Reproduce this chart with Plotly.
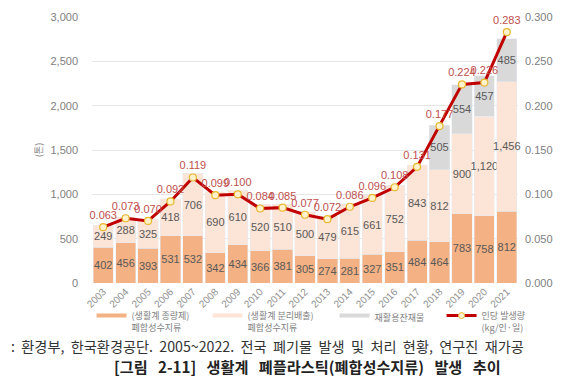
import plotly.graph_objects as go

years = [str(y) for y in range(2003, 2022)]
general_waste = [402, 456, 393, 531, 532, 342, 434, 366, 381, 305, 274, 281,
                 327, 351, 484, 464, 783, 758, 812]
separated = [249, 288, 325, 418, 706, 690, 610, 520, 510, 500, 479, 615,
             661, 752, 843, 812, 900, 1120, 1456]
residue = [None] * 15 + [505, 554, 457, 485]
per_capita = [0.063, 0.073, 0.070, 0.092, 0.119, 0.099, 0.100, 0.084, 0.085,
              0.077, 0.072, 0.086, 0.096, 0.108, 0.131, 0.177, 0.224, 0.226, 0.283]

names = ['(생활계 종량제)<br>폐합성수지류', '(생활계 분리배출)<br>폐합성수지류',
         '재활용잔재물', '인당 발생량<br>(kg/인·일)']
colors = ['#F4B183', '#FCE4D6', '#D9D9D9', '#C00000']

FONT = 'Liberation Sans, Noto Sans CJK KR, sans-serif'
KFONT = 'Noto Sans CJK KR, sans-serif'

fig = go.Figure()
for vals, color in zip([general_waste, separated, residue], colors[:3]):
    fig.add_trace(go.Bar(
        x=years, y=vals, marker_color=color, showlegend=False,
        texttemplate='%{y:,}', textposition='inside', insidetextanchor='middle',
        textangle=0, constraintext='none', cliponaxis=False,
        textfont=dict(size=11, color='#595959', family=FONT),
        hoverinfo='skip'
    ))

fig.add_trace(go.Scatter(
    x=years, y=per_capita, yaxis='y2', mode='lines+markers+text',
    line=dict(color='#C00000', width=3),
    marker=dict(size=7, color='#FFF2CC', line=dict(color='#E8B830', width=1.2)),
    text=[f'{v:.3f}' for v in per_capita], textposition='top center',
    textfont=dict(size=11, color='#C0504D', family=FONT),
    cliponaxis=False, showlegend=False
))

# legend-only entries drawn as short lines, like the original
widths = [71, 82, 62, 55]
for i, (name, color) in enumerate(zip(names, colors)):
    fig.add_trace(go.Scatter(
        x=[None], y=[None], name=name,
        mode='lines+markers' if i == 3 else 'lines',
        line=dict(color=color, width=3 if i == 3 else 4),
        marker=dict(size=6, color='#FFF2CC', line=dict(color='#E8B830', width=1)),
        legendwidth=widths[i]
    ))

# page body has an 8px margin, so the figure is a bit smaller than the window
fig.update_layout(
    width=559, height=370,
    margin=dict(l=84, r=49, t=9, b=95, autoexpand=False),
    paper_bgcolor='white', plot_bgcolor='white',
    barmode='stack', bargap=0.1,
    font=dict(family=FONT, color='#808080'),
    xaxis=dict(range=[-0.5, len(years) - 0.5], tickangle=-45,
               tickfont=dict(size=10, color='#909090'),
               showgrid=False, ticks='', automargin=False),
    yaxis=dict(range=[0, 3000], dtick=500, tickformat=',', automargin=False,
               tickfont=dict(size=11, color='#808080'), ticklabelstandoff=13,
               gridcolor='#E6E6E6', zeroline=False,
               title=dict(text='(톤)', font=dict(size=9, family=KFONT), standoff=6)),
    yaxis2=dict(range=[0, 0.3], dtick=0.05, tickformat='.3f', overlaying='y',
                side='right', showgrid=False, zeroline=False, automargin=False,
                tickfont=dict(size=11, color='#808080'), ticklabelstandoff=6),
    legend=dict(orientation='h', x=-0.001, y=-0.076, xanchor='left', yanchor='top',
                itemwidth=30, valign='top', tracegroupgap=0, traceorder='normal',
                font=dict(size=9, color='#808080', family=KFONT),
                bgcolor='rgba(0,0,0,0)'),
)

fig.add_annotation(
    text=':  환경부,  한국환경공단.  2005~2022.  전국  폐기물  발생  및  처리  현황,  연구진  재가공',
    xref='paper', yref='paper', x=-0.195, y=-0.236, xanchor='left', yanchor='middle',
    showarrow=False, font=dict(size=14.2, color='#333333', family=KFONT)
)
fig.add_annotation(
    text='<b>[그림   2-11]   생활계   폐플라스틱(폐합성수지류)   발생   추이</b>',
    xref='paper', yref='paper', x=0.506, y=-0.312, xanchor='center', yanchor='middle',
    showarrow=False, font=dict(size=15.2, color='#222222', family=KFONT)
)

fig.write_html('out.html')
